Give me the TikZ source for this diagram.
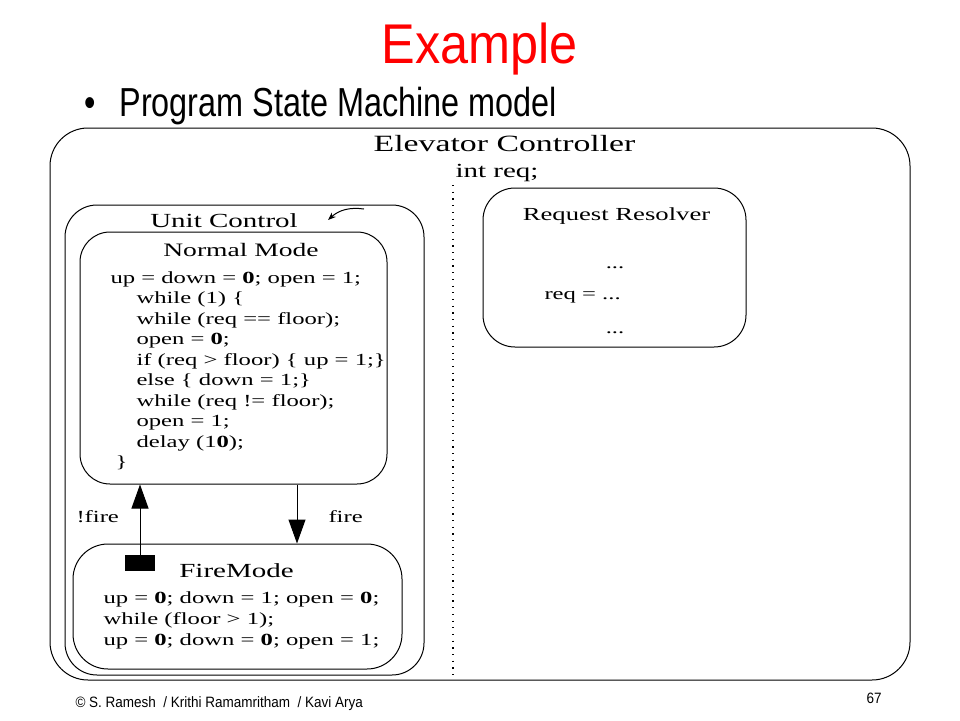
\documentclass[tikz,border=0pt]{standalone}
\usepackage{fontspec}
\setmainfont[FakeStretch=1.45]{Liberation Serif}
\newfontfamily\titlefont[FakeStretch=0.9]{Liberation Sans}
\newfontfamily\headfont[FakeStretch=0.8]{Liberation Sans}
\newfontfamily\footfont[FakeStretch=0.9]{Liberation Sans}
\usetikzlibrary{arrows.meta}
\newcommand\zz{\textbf{0}}
\tikzset{
  state/.style={draw, line width=1pt, rounded corners=30pt, inner sep=0pt},
  codeline/.style={anchor=base west, inner sep=0pt, font=\fontsize{17}{20}\selectfont},
  heading/.style={anchor=base, inner sep=0pt, font=\fontsize{20}{24}\selectfont},
  dotline/.style={line width=1.2pt, dash pattern=on 1.2pt off 5.5pt},
}
\begin{document}
\begin{tikzpicture}[x=1pt,y=-1pt,>={Triangle[length=24pt,width=17pt]},line width=1pt]
  \useasboundingbox[fill=white] (0,0) rectangle (960,720);

  % slide title
  \node[anchor=base, inner sep=0pt, text=red, font=\titlefont\fontsize{56}{60}\selectfont] (title) at (479.5,63) {Example};
  \node[anchor=base west, inner sep=0pt, font=\headfont\fontsize{40.5}{44}\selectfont] (bullet) at (84,116) {•};
  \node[anchor=base west, inner sep=0pt, font=\headfont\fontsize{40.5}{44}\selectfont] (subtitle) at (119,116) {Program State Machine model};

  % the states
  \node[state, rounded corners=38pt, minimum width=860pt, minimum height=552pt] (elevator) at (480,404) {};
  \node[state, rounded corners=32pt, minimum width=359pt, minimum height=470pt] (unitctl) at (244.5,440) {};
  \node[state, minimum width=307pt, minimum height=252pt] (normal) at (233.5,358) {};
  \node[state, rounded corners=35pt, minimum width=329pt, minimum height=125pt] (firemode) at (237.5,606.5) {};
  \node[state, rounded corners=32pt, minimum width=263pt, minimum height=159pt] (resolver) at (614.5,267.5) {};

  % concurrent split
  \coordinate (dtop) at (453,185);
  \coordinate (dbot) at (453,678);
  \draw[dotline] (dtop) -- (dbot);

  % state names
  \node[heading, font=\fontsize{23.3}{28}\selectfont] (elevname) at (504.5,151) {Elevator Controller};
  \node[anchor=base west, inner sep=0pt, font=\fontsize{20}{24}\selectfont] (intreq) at (455,177) {int req;};
  \node[heading] (ucname) at (224,227) {Unit Control};
  \node[heading, font=\fontsize{19}{23}\selectfont] (nmname) at (241,256) {Normal Mode};
  \node[heading] (fmname) at (236.5,577) {FireMode};
  \node[heading, font=\fontsize{18.4}{22}\selectfont] (rrname) at (616.5,220) {Request Resolver};

  % initial state marker
  \coordinate (ucfrom) at (364,209);
  \coordinate (ucto) at (328,220);
  \draw[-{Stealth[length=8pt,width=6pt]}] (ucfrom) to[bend right=25] (ucto);

  % normal mode program
  \foreach \xc/\txt [count=\i] in {
    110/{up = down = \zz; open = 1;},
    136/{while (1) \{},
    136/{while (req == floor);},
    136/{open = \zz;},
    136/{if (req > floor) \{ up = 1;\}},
    136/{else \{ down = 1;\}},
    136/{while (req != floor);},
    136/{open = 1;},
    136/{delay (1\zz);},
    115/{\}}
  }
  {
    \node[codeline] (nm\i) at (\xc, 262.5+20.5*\i) {\txt};
  }

  % fire mode program
  \foreach \txt [count=\i] in {
    {up = \zz; down = 1; open = \zz;},
    {while (floor > 1);},
    {up = \zz; down = \zz; open = 1;}
  }
  {
    \node[codeline] (fm\i) at (103, 582+21*\i) {\txt};
  }

  % request resolver program
  \node[anchor=base, inner sep=0pt, font=\fontsize{17}{20}\selectfont] (rr1) at (615,268) {...};
  \node[codeline] (rr2) at (544,299) {req = ...};
  \node[anchor=base, inner sep=0pt, font=\fontsize{17}{20}\selectfont] (rr3) at (615,333) {...};

  % transitions
  \node[fill, minimum width=30pt, minimum height=16pt, inner sep=0pt] (reset) at (140,563) {};
  \draw[->] (reset.north) -- (reset.north |- normal.south);
  \draw[->] ([xshift=63.5pt]normal.south) -- ([xshift=63.5pt]normal.south |- firemode.north);
  \node[codeline] (notfire) at (76,522) {!fire};
  \node[codeline] (fire) at (328,522) {fire};

  % footer
  \node[anchor=base west, inner sep=0pt, font=\footfont\fontsize{15}{18}\selectfont] (credit) at (75,707) {© S. Ramesh~ / Krithi Ramamritham~ / Kavi Arya};
  \node[anchor=base west, inner sep=0pt, font=\footfont\fontsize{15}{18}\selectfont] (page) at (866,703) {67};
\end{tikzpicture}
\end{document}
